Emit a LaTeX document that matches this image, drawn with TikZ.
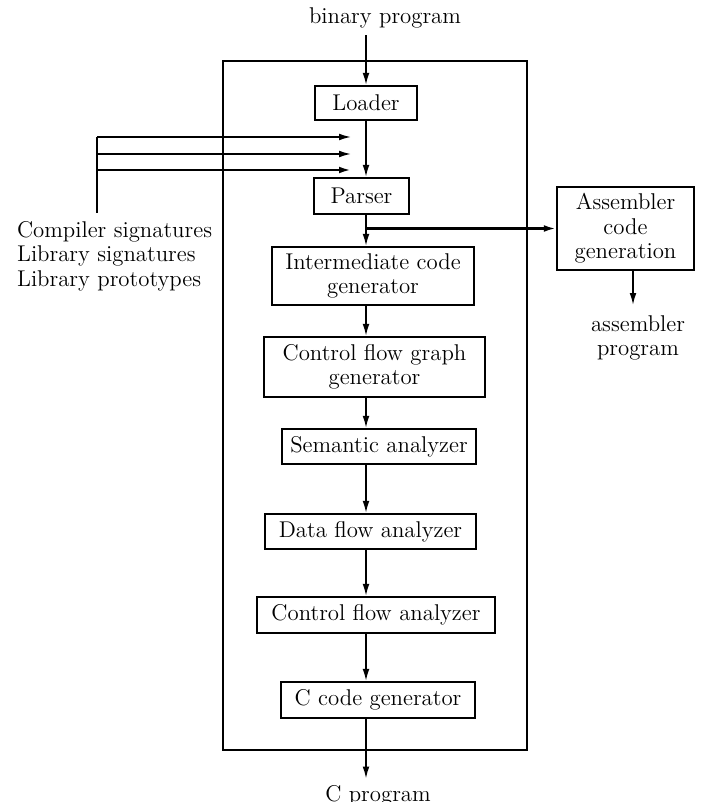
\documentclass[tikz,border=0pt]{standalone}
\usepackage{tikz}
\usetikzlibrary{arrows.meta}

\begin{document}
\begin{tikzpicture}[x=0.5pt, y=-0.5pt,
		font=\fontsize{11.4}{12.3}\selectfont,
		box/.style={draw=black, line width=1.1pt, inner sep=0pt, align=center},
		arr/.style={line width=0.8pt, -{Latex[length=6pt, width=3.4pt]}}]
		\useasboundingbox (0,0) rectangle (703,802);
		\draw[line width=1pt] (223,61) rectangle (527,750);
		% boxes of the decompiler
		\node[box, minimum width=51pt, minimum height=17pt] (Loader) at (366,103) {Loader};
		\node[box, minimum width=47.5pt, minimum height=18pt] (Parser) at (361.5,196) {Parser};
		\node[box, minimum width=101pt, minimum height=29pt] (Icg) at (373,276) {Intermediate code\\generator};
		\node[box, minimum width=110.5pt, minimum height=30pt] (Cfg) at (374.5,367) {Control flow graph\\generator};
		\node[box, minimum width=97pt, minimum height=17.5pt] (Sem) at (379,446.5) {Semantic analyzer};
		\node[box, minimum width=105.5pt, minimum height=17.5pt] (Dfa) at (370.5,531.5) {Data flow analyzer};
		\node[box, minimum width=119pt, minimum height=18pt] (Cfa) at (376,615) {Control flow analyzer};
		\node[box, minimum width=97pt, minimum height=18pt] (Cgen) at (378,700) {C code generator};
		\node[box, minimum width=68.5pt, minimum height=41.5pt] (Asm) at (625.5,228.5) {Assembler\\code\\generation};
		% texts
		\node (Bin) at (385,18) {binary program};
		\node (Cprog) at (378,796) {C program};
		\node[align=center] (Asmprog) at (638,338) {assembler\\program};
		\node[anchor=west, align=left] (Sigs) at (10,256) {Compiler signatures\\Library signatures\\Library prototypes};
		% signature inputs
		\coordinate (S1) at (97,137);
		\coordinate (S2) at (97,154);
		\coordinate (S3) at (97,170);
		\draw[line width=0.8pt] (S1) -- (97,213);
		\draw[arr] (S1) -- (351,137);
		\draw[arr] (S2) -- (351,154);
		\draw[arr, line width=1.1pt] (S3) -- (351,170);
		% main flow
		\draw[arr] (Loader.north |- Bin.south) -- (Loader.north);
		\draw[arr] (Loader.south) -- (Loader.south |- Parser.north);
		\draw[arr] (Loader.south |- Parser.south) -- (Loader.south |- Icg.north);
		\draw[arr, line width=1.1pt] (Loader.south |- Asm.west) -- (Asm.west);
		\draw[arr] (Loader.south |- Icg.south) -- (Loader.south |- Cfg.north);
		\draw[arr] (Loader.south |- Cfg.south) -- (Loader.south |- Sem.north);
		\draw[arr] (Loader.south |- Sem.south) -- (Loader.south |- Dfa.north);
		\draw[arr] (Loader.south |- Dfa.south) -- (Loader.south |- Cfa.north);
		\draw[arr] (Loader.south |- Cfa.south) -- (Loader.south |- Cgen.north);
		\draw[arr] (Loader.south |- Cgen.south) -- (Loader.south |- Cprog.north);
		\draw[arr] (633,270) -- (633 ,305);
	\end{tikzpicture}
\end{document}
